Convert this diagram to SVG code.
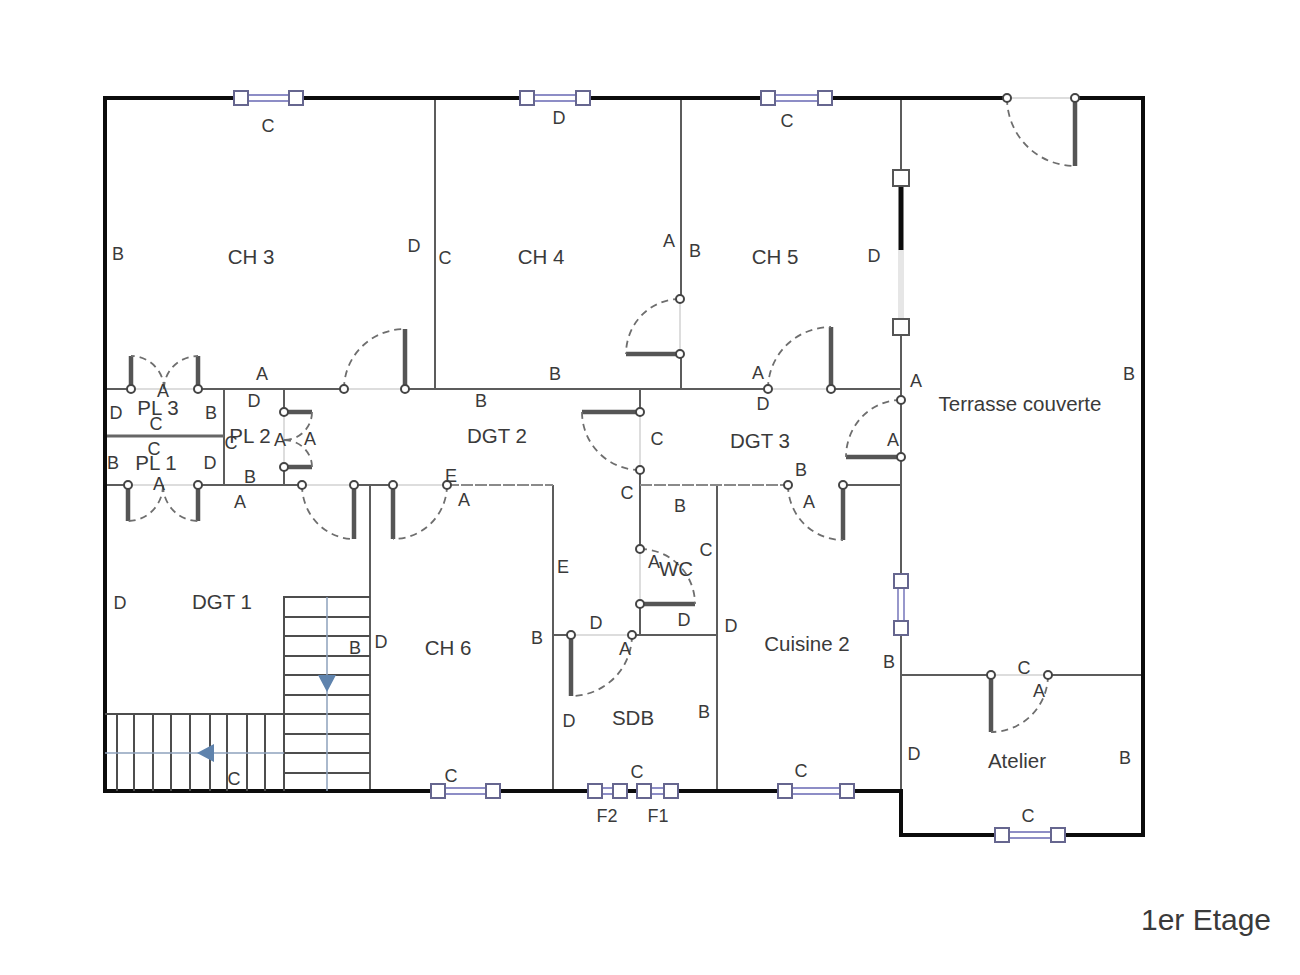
<svg xmlns="http://www.w3.org/2000/svg" width="1300" height="975" viewBox="0 0 1300 975">
<style>
text{font-family:"Liberation Sans",Arial,sans-serif;font-size:18px;fill:#3a3a3a;text-anchor:middle}
#rooms text{font-size:20.5px}
.ext{fill:none;stroke:#0c0c0c;stroke-width:4;stroke-linecap:square}
.w{fill:none;stroke:#5c5c5c;stroke-width:2}
.wt{fill:none;stroke:#666;stroke-width:3}
.op{fill:none;stroke:#ddd;stroke-width:2}
.leaf{fill:none;stroke:#555;stroke-width:4.5}
.arc{fill:none;stroke:#6e6e6e;stroke-width:1.8;stroke-dasharray:7 5}
.h{fill:#fff;stroke:#444;stroke-width:2}
.st{fill:none;stroke:#4d4d4d;stroke-width:2}
.ax{fill:none;stroke:#8fa3bd;stroke-width:1.5}
.arrow{fill:#5f83ad}
.wf{fill:#fff;stroke:#66668f;stroke-width:2}
.wl{fill:none;stroke:#8d8dc6;stroke-width:1.8}
</style>
<rect width="1300" height="975" fill="#fff"/>
<g id="openings">
<path class="op" d="M1007 98H1075M344 389H405M768 389H831M131 389H198M128 485H198M302 485H354M393 485H447M571 635H632M991 675H1048M680 299V354M640 412V470M640 549V604M901 400V457M284 412V467"/>
<path d="M901 250V320" fill="none" stroke="#e6e6e6" stroke-width="6"/>
</g>
<g id="connectors">
<path class="w" d="M435 98V389M681 98V299M681 354V389M901 98V172M901 334V574M901 635V791M198 389H344M405 389H768M831 389H901M224 389V485M198 485H302M354 485H393M284 389V412M284 467V485M640 389V412M640 470V549M640 604V635M632 635H717M553 635H571M553 485V791M370 485V791M717 485V791M901 675H991M1048 675H1143M843 485H901M105 389H131M105 485H128"/>
<path class="wt" d="M105 436H224"/>
<path d="M447 485H553M640 485H788" fill="none" stroke="#8a8a8a" stroke-width="2" stroke-dasharray="12 2"/>
<path d="M901 185V250" fill="none" stroke="#0c0c0c" stroke-width="5"/>
</g>
<g id="outer-walls">
<path class="ext" d="M1007 98H832M761 98H590M520 98H303M234 98H105V791H431M500 791H588M627 791H637M678 791H778M854 791H901V835H995M1065 835H1143V98H1075"/>
</g>
<g id="stairs">
<path class="st" d="M284 791V597H370M284 617H370M284 636H370M284 656H370M284 675H370M284 695H370M284 714H370M284 734H370M284 753H370M284 773H370M105 714H284M117 714V791M134 714V791M153 714V791M171 714V791M190 714V791M210 714V791M227 714V791M247 714V791M265 714V791"/>
<path class="ax" d="M327 597V791M105 753H284"/>
<path class="arrow" d="M318 675H336L327 692ZM197 753L214 744V762Z"/>
</g>
<g id="doors">
<path class="leaf" d="M1075 98V166M405 389V329M680 354H626M831 389V327M901 457H846M640 412H582M843 485V540M354 485V539M393 485V539M131 389V356M198 389V356M128 485V521M198 485V521M284 412H312M284 467H312M640 604H695M571 635V696M991 675V732"/>
<path class="arc" d="M1007 98A68 68 0 0 0 1075 166M344 389A61 60 0 0 1 405 329M680 299A54 55 0 0 0 626 354M768 389A63 62 0 0 1 831 327M901 400A55 57 0 0 0 846 457M582 412A58 58 0 0 0 640 470M788 485A55 55 0 0 0 843 540M302 485A52 54 0 0 0 354 539M447 485A54 54 0 0 1 393 539M164 389A33 33 0 0 0 131 356M164 389A34 33 0 0 1 198 356M163 485A35 36 0 0 1 128 521M163 485A35 36 0 0 0 198 521M312 412A28 28 0 0 1 284 440M312 467A28 27 0 0 0 284 440M640 549A55 55 0 0 1 695 604M632 635A61 61 0 0 1 571 696M1048 675A57 57 0 0 1 991 732"/>
<g id="hinges">
<circle class="h" cx="1007" cy="98" r="4"/><circle class="h" cx="1075" cy="98" r="4"/>
<circle class="h" cx="344" cy="389" r="4"/><circle class="h" cx="405" cy="389" r="4"/>
<circle class="h" cx="680" cy="299" r="4"/><circle class="h" cx="680" cy="354" r="4"/>
<circle class="h" cx="768" cy="389" r="4"/><circle class="h" cx="831" cy="389" r="4"/>
<circle class="h" cx="901" cy="400" r="4"/><circle class="h" cx="901" cy="457" r="4"/>
<circle class="h" cx="640" cy="412" r="4"/><circle class="h" cx="640" cy="470" r="4"/>
<circle class="h" cx="788" cy="485" r="4"/><circle class="h" cx="843" cy="485" r="4"/>
<circle class="h" cx="302" cy="485" r="4"/><circle class="h" cx="354" cy="485" r="4"/>
<circle class="h" cx="393" cy="485" r="4"/><circle class="h" cx="447" cy="485" r="4"/>
<circle class="h" cx="131" cy="389" r="4"/><circle class="h" cx="198" cy="389" r="4"/>
<circle class="h" cx="128" cy="485" r="4"/><circle class="h" cx="198" cy="485" r="4"/>
<circle class="h" cx="284" cy="412" r="4"/><circle class="h" cx="284" cy="467" r="4"/>
<circle class="h" cx="640" cy="549" r="4"/><circle class="h" cx="640" cy="604" r="4"/>
<circle class="h" cx="571" cy="635" r="4"/><circle class="h" cx="632" cy="635" r="4"/>
<circle class="h" cx="991" cy="675" r="4"/><circle class="h" cx="1048" cy="675" r="4"/>
</g>
</g>
<g id="windows">
<path class="wl" d="M241 95H296M241 101H296M527 95H583M527 101H583M768 95H825M768 101H825M438 788H493M438 794H493M785 788H847M785 794H847M1002 832H1058M1002 838H1058M595 788H620M595 794H620M644 788H671M644 794H671M898 581V628M904 581V628"/>
<g>
<rect class="wf" x="234" y="91" width="14" height="14"/><rect class="wf" x="289" y="91" width="14" height="14"/>
<rect class="wf" x="520" y="91" width="14" height="14"/><rect class="wf" x="576" y="91" width="14" height="14"/>
<rect class="wf" x="761" y="91" width="14" height="14"/><rect class="wf" x="818" y="91" width="14" height="14"/>
<rect class="wf" x="431" y="784" width="14" height="14"/><rect class="wf" x="486" y="784" width="14" height="14"/>
<rect class="wf" x="778" y="784" width="14" height="14"/><rect class="wf" x="840" y="784" width="14" height="14"/>
<rect class="wf" x="995" y="828" width="14" height="14"/><rect class="wf" x="1051" y="828" width="14" height="14"/>
<rect class="wf" x="588" y="784" width="14" height="14"/><rect class="wf" x="613" y="784" width="14" height="14"/>
<rect class="wf" x="637" y="784" width="14" height="14"/><rect class="wf" x="664" y="784" width="14" height="14"/>
<rect class="wf" x="894" y="574" width="14" height="14"/><rect class="wf" x="894" y="621" width="14" height="14"/>
<rect x="893" y="170" width="16" height="16" fill="#fff" stroke="#555" stroke-width="2"/>
<rect x="893" y="319" width="16" height="16" fill="#fff" stroke="#555" stroke-width="2"/>
</g>
</g>
<g id="rooms">
<text x="251" y="264">CH 3</text><text x="541" y="264">CH 4</text><text x="775" y="264">CH 5</text>
<text x="1020" y="411">Terrasse couverte</text><text x="497" y="443">DGT 2</text><text x="760" y="448">DGT 3</text>
<text x="158" y="415">PL 3</text><text x="250" y="443">PL 2</text><text x="156" y="470">PL 1</text>
<text x="222" y="609">DGT 1</text><text x="448" y="655">CH 6</text><text x="807" y="651">Cuisine 2</text>
<text x="633" y="725">SDB</text><text x="676" y="576">WC</text><text x="1017" y="768">Atelier</text>
</g>
<g id="labels">
<text x="268" y="132">C</text><text x="559" y="124">D</text><text x="787" y="127">C</text>
<text x="118" y="260">B</text><text x="414" y="252">D</text><text x="445" y="264">C</text><text x="669" y="247">A</text><text x="695" y="257">B</text><text x="874" y="262">D</text>
<text x="262" y="380">A</text><text x="555" y="380">B</text><text x="758" y="379">A</text><text x="916" y="387">A</text><text x="1129" y="380">B</text>
<text x="163" y="397">A</text><text x="116" y="419">D</text><text x="211" y="419">B</text><text x="254" y="407">D</text><text x="481" y="407">B</text><text x="763" y="410">D</text>
<text x="156" y="430">C</text><text x="154" y="455">C</text><text x="231" y="449">C</text><text x="280" y="446">A</text><text x="310" y="445">A</text><text x="657" y="445">C</text><text x="893" y="446">A</text>
<text x="113" y="469">B</text><text x="210" y="469">D</text><text x="250" y="483">B</text><text x="451" y="482">E</text><text x="801" y="476">B</text>
<text x="159" y="490">A</text><text x="240" y="508">A</text><text x="464" y="506">A</text><text x="627" y="499">C</text><text x="680" y="512">B</text><text x="809" y="508">A</text>
<text x="706" y="556">C</text><text x="654" y="568">A</text><text x="563" y="573">E</text><text x="120" y="609">D</text>
<text x="596" y="629">D</text><text x="684" y="626">D</text><text x="731" y="632">D</text><text x="537" y="644">B</text><text x="355" y="654">B</text><text x="381" y="648">D</text><text x="625" y="655">A</text>
<text x="889" y="668">B</text><text x="1024" y="674">C</text><text x="1039" y="697">A</text><text x="704" y="718">B</text><text x="569" y="727">D</text><text x="914" y="760">D</text><text x="1125" y="764">B</text>
<text x="234" y="785">C</text><text x="451" y="782">C</text><text x="637" y="778">C</text><text x="801" y="777">C</text><text x="1028" y="822">C</text>
<text x="607" y="822">F2</text><text x="658" y="822">F1</text>
<text x="1206" y="930" style="font-size:30px">1er Etage</text>
</g>
</svg>
